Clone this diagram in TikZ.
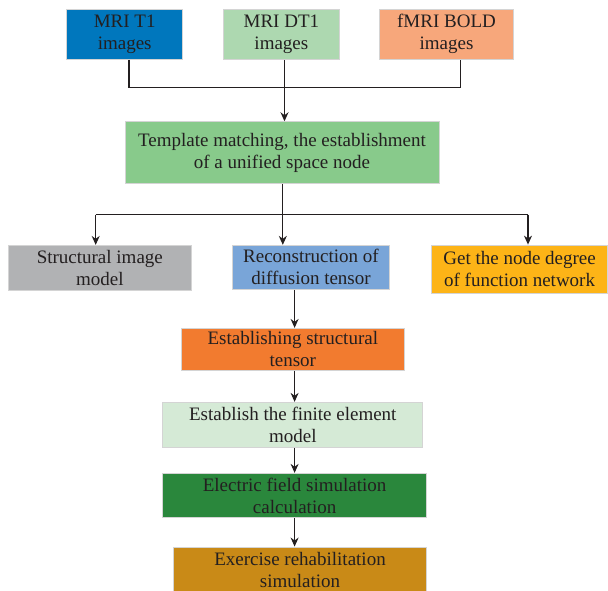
\documentclass[tikz,border=0pt]{standalone}
\usepackage{fontspec}
\setmainfont{Liberation Serif}
\usetikzlibrary{arrows.meta}
\definecolor{txt}{HTML}{231F20}
\definecolor{cT}{HTML}{0077BD}
\definecolor{cD}{HTML}{ADD8B0}
\definecolor{cB}{HTML}{F7A77B}
\definecolor{cTm}{HTML}{88CA8B}
\definecolor{cS}{HTML}{B1B2B4}
\definecolor{cR}{HTML}{79A5D8}
\definecolor{cG}{HTML}{FDB417}
\definecolor{cE}{HTML}{F27B2F}
\definecolor{cF}{HTML}{D5EAD6}
\definecolor{cEl}{HTML}{2A873C}
\definecolor{cX}{HTML}{C98A17}
\definecolor{bord}{HTML}{D4D4D4}
\tikzset{
  box/.style={draw=bord, line width=0.9pt, align=center, inner sep=0pt, text=txt,
    font=\fontsize{19}{22}\selectfont},
  conn/.style={draw=txt, line width=1.1pt},
  arr/.style={conn, -{Stealth[length=9pt,width=8pt]}}
}
\begin{document}
\begin{tikzpicture}[x=1pt,y=-1pt]
\clip (0,0) rectangle (608,590);
\useasboundingbox (0,0) rectangle (608,590);
% top row
\node[box, fill=cT, minimum width=116pt, minimum height=50pt] (t1) at (124.7,34.3) {MRI T1\\images};
\node[box, fill=cD, minimum width=116pt, minimum height=50pt] (dt1) at (281.4,34.3) {MRI DT1\\images};
\node[box, fill=cB, minimum width=134pt, minimum height=50pt] (bold) at (446.5,34.3) {fMRI BOLD\\images};
% template
\node[box, fill=cTm, minimum width=314pt, minimum height=61.6pt] (tmpl) at (282,152.5) {Template matching, the establishment\\of a unified space node};
% second row
\node[box, fill=cS, minimum width=182.5pt, minimum height=44.7pt] (struct) at (99.8,267.7) {Structural image\\model};
\node[box, fill=cR, minimum width=157pt, minimum height=44pt] (recon) at (311,267.3) {Reconstruction of\\diffusion tensor};
\node[box, fill=cG, minimum width=176pt, minimum height=48.3pt] (getn) at (519.6,269.2) {Get the node degree\\of function network};
% chain
\node[box, fill=cE, minimum width=223pt, minimum height=41.7pt] (estab) at (292.8,349.2) {Establishing structural\\tensor};
\node[box, fill=cF, minimum width=260pt, minimum height=45pt] (fin) at (292.8,424.8) {Establish the finite element\\model};
\node[box, fill=cEl, minimum width=263.6pt, minimum height=44.4pt] (elec) at (294.6,495.5) {Electric field simulation\\calculation};
\node[box, fill=cX, minimum width=253.4pt, minimum height=45pt] (exer) at (300,569.5) {Exercise rehabilitation\\simulation};
% connectors top
\coordinate (xa) at (129,0);
\coordinate (xb) at (284.5,0);
\coordinate (xc) at (460.5,0);
\coordinate (jt) at (0,87.3);
\draw[conn] (t1.south -| xa) -- (xa |- jt) -- (xc |- jt) -- (bold.south -| xc);
\draw[arr] (dt1.south -| xb) -- (tmpl.north -| xb);
% branch
\coordinate (sp) at (282.8,214.5);
\coordinate (bl) at (95.7,214.5);
\coordinate (br) at (528,214.5);
\draw[conn] (tmpl.south -| sp) -- (sp);
\draw[conn] (bl) -- (br);
\draw[arr] (bl) -- (bl |- struct.north);
\draw[arr] (sp) -- (sp |- recon.north);
\draw[arr] (br) -- (br |- getn.north);
% chain
\coordinate (xv) at (294.6,0);
\draw[arr] (recon.south -| xv) -- (estab.north -| xv);
\draw[arr] (estab.south -| xv) -- (fin.north -| xv);
\draw[arr] (fin.south -| xv) -- (elec.north -| xv);
\draw[arr] (elec.south -| xv) -- (exer.north -| xv);
\end{tikzpicture}
\end{document}
